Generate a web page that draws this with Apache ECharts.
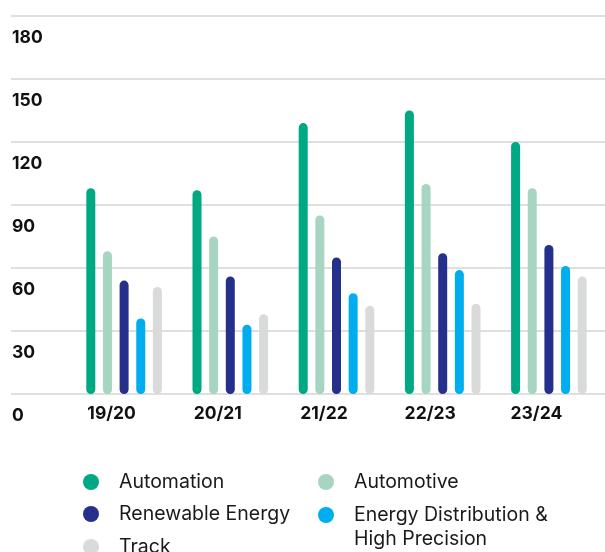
<!DOCTYPE html>
<html>
<head>
<meta charset="utf-8">
<script src="https://cdn.jsdelivr.net/npm/echarts@6/dist/echarts.min.js"></script>
<style>
  html, body { margin: 0; padding: 0; background: #ffffff; }
  #chart { width: 605px; height: 552px; }
</style>
</head>
<body>
<div id="chart"></div>
<script>
// Fiscal years
const categories = ['19/20', '20/21', '21/22', '22/23', '23/24'];

// Series names
const seriesNames = [
  'Automation',
  'Automotive',
  'Renewable Energy',
  'Energy Distribution & High Precision',
  'Track'
];

// Values per segment
const automation = [98, 97, 129, 135, 120];
const automotive = [68, 75, 85, 100, 98];
const renewableEnergy = [54, 56, 65, 67, 71];
const energyDistribution = [36, 33, 48, 59, 61];
const track = [51, 38, 42, 43, 56];

// Value axis ticks
const yMin = 0;
const yMax = 180;
const yInterval = 30;

const seriesValues = [automation, automotive, renewableEnergy, energyDistribution, track];
const colors = ['#00a884', '#a8d5c2', '#25308a', '#00aeef', '#d9dada'];

const chart = echarts.init(document.getElementById('chart'), null, { renderer: 'canvas' });

const FONT = 'Inter, "Noto Sans", Arial, sans-serif';

// one legend block per entry, laid out in two columns
const legendSpots = [
  { left: 83, center: 482 },
  { left: 318, center: 482 },
  { left: 83, center: 514 },
  { left: 318, center: 515 },
  { left: 83, center: 547 }
];
const LINE_H = 24;
const legends = seriesNames.map((name, i) => {
  const multi = name.indexOf('&') >= 0;
  const lines = multi ? 3 : 1;
  return {
    data: [{ name: name, icon: 'circle' }],
    left: legendSpots[i].left,
    top: legendSpots[i].center - (lines * LINE_H) / 2,
    padding: 0,
    itemWidth: 16,
    itemHeight: 16,
    selectedMode: false,
    formatter: multi ? '\nEnergy Distribution &\nHigh Precision' : '{name}',
    textStyle: {
      fontFamily: FONT,
      fontSize: 19.5,
      color: '#1a1a1a',
      lineHeight: LINE_H,
      padding: [0, 0, 0, 15]
    }
  };
});

const option = {
  backgroundColor: '#ffffff',
  animation: false,
  color: colors,
  legend: legends,
  grid: [
    // full-width grid carrying gridlines and value labels
    { left: 11, right: 0, top: 16, bottom: 158, containLabel: false },
    // grid holding the bars
    { left: 71, right: 3, top: 16, bottom: 158, containLabel: false }
  ],
  xAxis: [
    { gridIndex: 0, type: 'value', min: 0, max: 1, show: false },
    {
      gridIndex: 1,
      type: 'category',
      data: categories,
      axisLine: { show: false },
      axisTick: { show: false },
      axisLabel: {
        fontFamily: FONT,
        fontSize: 17.5,
        fontWeight: 'bold',
        color: '#111111',
        margin: 11,
        lineHeight: 17,
        align: 'center',
        padding: [0, 25, 0, 0]
      }
    }
  ],
  yAxis: [
    {
      gridIndex: 0,
      type: 'value',
      min: yMin,
      max: yMax,
      interval: yInterval,
      axisLine: { show: false },
      axisTick: { show: false },
      splitLine: { show: true, lineStyle: { color: '#d4d4d4', width: 1.5 } },
      axisLabel: {
        inside: true,
        margin: 1,
        align: 'left',
        verticalAlign: 'top',
        padding: [13, 0, 0, 0],
        lineHeight: 17,
        fontFamily: FONT,
        fontSize: 17.5,
        fontWeight: 'bold',
        color: '#111111'
      }
    },
    {
      gridIndex: 1,
      type: 'value',
      min: yMin,
      max: yMax,
      interval: yInterval,
      show: false,
      splitLine: { show: false }
    }
  ],
  series: seriesNames.map((name, i) => ({
    name: name,
    type: 'bar',
    xAxisIndex: 1,
    yAxisIndex: 1,
    data: seriesValues[i],
    barWidth: 9,
    barGap: '85%',
    itemStyle: { color: colors[i], borderRadius: 4.5 }
  }))
};

chart.setOption(option);
</script>
</body>
</html>
